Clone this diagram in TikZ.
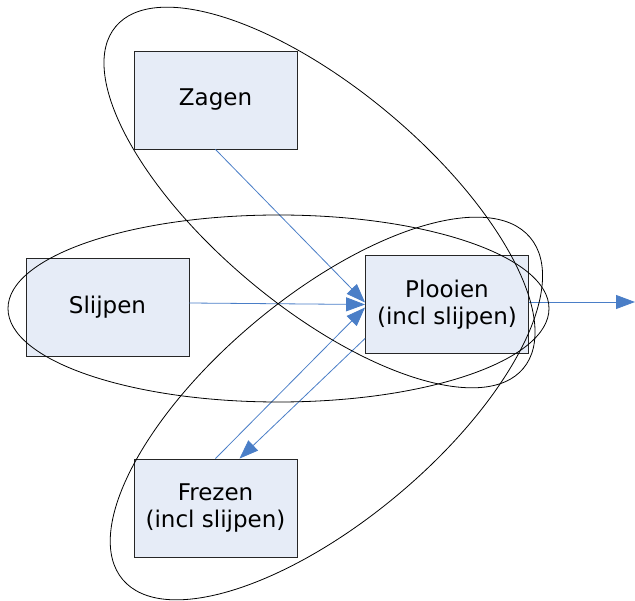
\documentclass[tikz,border=0pt]{standalone}
\usepackage{fontspec}
\setmainfont{DejaVu Sans}
\usetikzlibrary{arrows.meta}
\definecolor{boxfill}{RGB}{230,236,247}
\definecolor{flow}{RGB}{74,126,199}

\begin{document}
\begin{tikzpicture}[x=1pt, y=-1pt,
  stap/.style={draw=black!85, fill=boxfill, line width=0.9pt, minimum width=163pt,
    minimum height=98pt, inner sep=0pt, align=center,
    font=\fontsize{23}{27}\selectfont},
  pijl/.style={draw=flow, line width=0.8pt, -{Triangle[length=19pt, width=14pt]}},
  groep/.style={draw=black, line width=0.8pt}]
  \useasboundingbox (0,0) rectangle (635,601);

  \node[stap] (zagen) at (215.5,100) {Zagen};
  \node[stap] (slijpen) at (107.5,307) {Slijpen};
  \node[stap] (plooien) at (447,304.5) {Plooien\\(incl slijpen)};
  \node[stap] (frezen) at (215.5,508) {Frezen\\(incl slijpen)};
  \coordinate (uit) at (635,302);

  \draw[pijl] (zagen.south) -- ([yshift=2pt]plooien.west);
  \draw[pijl] ([yshift=4pt]slijpen.east) -- (plooien.west);
  \draw[pijl] (frezen.north) -- ([yshift=-3pt]plooien.west);
  \draw[pijl] ([yshift=-34pt]plooien.west) -- ([xshift=24pt]frezen.north);
  \draw[pijl] ([yshift=2.5pt]plooien.east) -- (uit);

  % groepen
  \draw[groep, rotate around={-40:(319.5,197.5)}] (319.5,197.5) ellipse [x radius=266pt, y radius=109pt];
  \draw[groep] (278.5,308.5) ellipse [x radius=270.5pt, y radius=93.5pt];
  \draw[groep, rotate around={40:(326.4,408.5)}] (326.4,408.5) ellipse [x radius=266pt, y radius=112pt];
\end{tikzpicture}
\end{document}
